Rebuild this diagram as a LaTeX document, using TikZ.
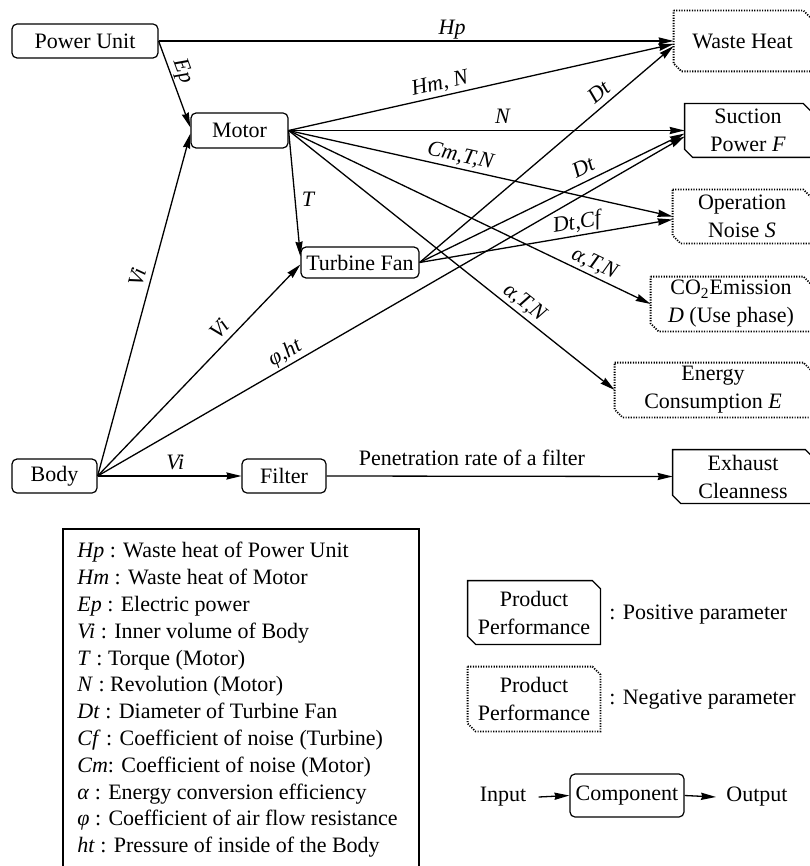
\documentclass[tikz,border=0pt]{standalone}
\usepackage{fontspec}
\setmainfont{LiberationSerif}[Extension=.ttf,UprightFont=*-Regular,ItalicFont=*-Italic,BoldFont=*-Bold,BoldItalicFont=*-BoldItalic]
\usetikzlibrary{arrows.meta}
\newcommand\perfshape[2]{%
  \draw[#2] (#1.north west) -- ([xshift=-4pt]#1.north east) -- ([yshift=-4pt]#1.north east)
    -- (#1.south east) -- ([xshift=4pt]#1.south west) -- ([yshift=4pt]#1.south west) -- cycle;}
\begin{document}
\begin{tikzpicture}[x=0.5pt,y=-0.5pt,
  font=\fontsize{11}{14}\selectfont,
  comp/.style={draw,rounded corners=2.5pt,line width=0.6pt,inner sep=0pt,align=center},
  perf/.style={inner sep=0pt,align=center},
  posline/.style={line width=0.65pt},
  negline/.style={line width=0.9pt,dash pattern=on 0.6pt off 0.7pt},
  arr/.style={line width=0.65pt,-{Stealth[length=7.5pt,width=3.6pt,inset=0.6pt]}},
  lab/.style={font=\fontsize{11}{14}\selectfont\itshape,inner sep=1pt,text depth=0.2em}]
\useasboundingbox (0,0) rectangle (809,866);

% components
\node[comp,minimum width=73pt,minimum height=17pt] (pu) at (85,41) {Power Unit};
\node[comp,minimum width=48.5pt,minimum height=17.5pt] (mo) at (239.5,130.5) {Motor};
\node[comp,minimum width=59pt,minimum height=15.5pt] (tf) at (360,262.5) {Turbine Fan};
\node[comp,minimum width=42.5pt,minimum height=17pt] (bo) at (54.5,476) {Body};
\node[comp,minimum width=42pt,minimum height=17pt] (fi) at (284,476) {Filter};

% product performance
\node[perf,minimum width=68.5pt,minimum height=30pt] (wh) at (742.5,41) {Waste Heat};
\node[perf,minimum width=63pt,minimum height=26.5pt] (sp) at (748,130.5) {Suction\\Power \textit{F}};
\node[perf,minimum width=69pt,minimum height=26.5pt] (on) at (742,216.5) {Operation\\Noise \textit{S}};
\node[perf,minimum width=80pt,minimum height=27pt] (co) at (731,304) {CO\textsubscript{2}Emission\\\textit{D} (Use phase)};
\node[perf,minimum width=98pt,minimum height=27pt] (en) at (713,390) {Energy\\Consumption \textit{E}};
\node[perf,minimum width=70pt,minimum height=26.5pt] (ex) at (743,476.5) {Exhaust\\Cleanness};
\perfshape{wh}{negline}
\perfshape{sp}{posline}
\perfshape{on}{negline}
\perfshape{co}{negline}
\perfshape{en}{negline}
\perfshape{ex}{posline}

% connectors
\draw[arr] (pu.east) -- node[lab,above,pos=.57]{Hp} (wh.west);
\draw[arr] (pu.east) -- node[lab,sloped,above,pos=.4]{Ep} ([yshift=1.5pt]mo.west);
\draw[arr] (bo.east) -- node[lab,sloped,above,pos=.57]{Vi} ([yshift=-1.5pt]mo.west);
\draw[arr] (bo.east) -- node[lab,sloped,above,pos=.65]{Vi} ([yshift=-1pt]tf.west);
\draw[arr] (bo.east) -- node[lab,sloped,above,pos=.33]{φ,ht} ([yshift=-3pt]sp.west);
\draw[arr] (bo.east) -- node[lab,above,pos=.54]{Vi} (fi.west);
\draw[arr] (fi.east) -- node[above,pos=.42,inner sep=3pt,text depth=0.2em]{Penetration rate of a filter} (ex.west);
\draw[arr] (mo.east) -- node[lab,sloped,above,pos=.40]{Hm, N} ([yshift=-1.5pt]wh.west);
\draw[arr] (mo.east) -- node[lab,above,pos=.54]{N} (sp.west);
\draw[arr] (mo.east) -- node[lab,sloped,above,pos=.44]{Cm,T,N} (on.west);
\draw[arr] (mo.east) -- node[lab,sloped,above,pos=.83]{α,T,N} (co.west);
\draw[arr] (mo.east) -- node[lab,sloped,above,pos=.70]{α,T,N} (en.west);
\draw[arr] (mo.east) -- node[lab,right,pos=.56,inner sep=3pt]{T} ([yshift=3pt]tf.west);
\draw[arr] (tf.east) -- node[lab,sloped,above,pos=.74]{Dt} ([yshift=-2.5pt]wh.west);
\draw[arr] (tf.east) -- node[lab,sloped,above,pos=.64]{Dt} ([yshift=-1.5pt]sp.west);
\draw[arr] (tf.east) -- node[lab,sloped,above,pos=.63]{Dt,Cf} ([yshift=-1.5pt]on.west);

% legend of symbols
\draw[line width=0.6pt] (63,529) rectangle (419,880);
\node[anchor=north west,align=left,inner sep=0pt,font=\fontsize{11}{13.4}\selectfont] (leg) at (77,542) {%
\textit{Hp} : Waste heat of Power Unit\\
\textit{Hm} : Waste heat of Motor\\
\textit{Ep} : Electric power\\
\textit{Vi} : Inner volume of Body\\
\textit{T} : Torque (Motor)\\
\textit{N} : Revolution (Motor)\\
\textit{Dt} : Diameter of Turbine Fan\\
\textit{Cf} : Coefficient of noise (Turbine)\\
\textit{Cm}: Coefficient of noise (Motor)\\
\textit{α} : Energy conversion efficiency\\
\textit{φ} : Coefficient of air flow resistance\\
\textit{ht} : Pressure of inside of the Body};

% legend of shapes
\node[perf,minimum width=66pt,minimum height=31.5pt] (lp) at (534,612.5) {Product\\Performance};
\perfshape{lp}{posline}
\node[anchor=west,inner sep=0pt] (lpt) at (609,615) {: Positive parameter};
\node[perf,minimum width=66pt,minimum height=32pt] (ln) at (534,699) {Product\\Performance};
\perfshape{ln}{negline}
\node[anchor=west,inner sep=0pt] (lnt) at (609,700) {: Negative parameter};

\node[comp,minimum width=57pt,minimum height=21.5pt] (lc) at (627,795.5) {Component};
\node[inner sep=6pt] (lin) at (503,797) {Input};
\node[inner sep=5pt] (lout) at (757,797) {Output};
\draw[arr] (lin.east) -- (lc.west);
\draw[arr] (lc.east) -- (lout.west);
\end{tikzpicture}
\end{document}
